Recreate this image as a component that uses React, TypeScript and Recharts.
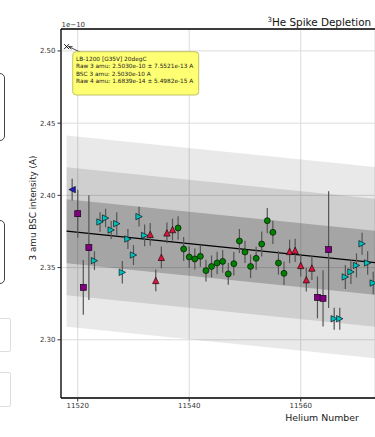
import React from 'react';
import {
  ComposedChart,
  Scatter,
  Area,
  Line,
  XAxis,
  YAxis,
  CartesianGrid,
  ErrorBar,
  ReferenceLine,
} from 'recharts';

// helium number -> 3 amu BSC intensity (x1e-10 A) and 1 sigma error
const cyanH = [11523, 11524, 11525, 11526, 11527, 11528, 11529, 11530, 11531, 11532, 11566, 11567, 11568, 11569, 11570, 11571, 11572, 11573];
const cyanV = [2.3548, 2.3816, 2.3843, 2.376, 2.3804, 2.3467, 2.3698, 2.3587, 2.3853, 2.3723, 2.3146, 2.3146, 2.3435, 2.347, 2.3515, 2.3665, 2.3532, 2.3393];
const cyanE = [0.0065, 0.0068, 0.0064, 0.0062, 0.008, 0.0078, 0.007, 0.0069, 0.0069, 0.0076, 0.0076, 0.0076, 0.0083, 0.0083, 0.0083, 0.0076, 0.0081, 0.0078];

const redH = [11533, 11534, 11535, 11536, 11537, 11558, 11559, 11560, 11561, 11562];
const redV = [2.373, 2.3411, 2.3571, 2.374, 2.3763, 2.3612, 2.3619, 2.3515, 2.3416, 2.3497];
const redE = [0.0079, 0.0075, 0.0075, 0.0072, 0.0076, 0.0081, 0.0081, 0.0076, 0.0081, 0.0083];

const greenH = [11538, 11539, 11540, 11541, 11542, 11543, 11544, 11545, 11546, 11547, 11548, 11549, 11550, 11551, 11552, 11553, 11554, 11555, 11556, 11557];
const greenV = [2.3774, 2.3629, 2.3573, 2.356, 2.3578, 2.3479, 2.3508, 2.3532, 2.3543, 2.3456, 2.3527, 2.3684, 2.3608, 2.3508, 2.3564, 2.3663, 2.3825, 2.3744, 2.3532, 2.346];
const greenE = [0.0081, 0.0083, 0.0075, 0.0073, 0.0073, 0.0076, 0.0076, 0.0078, 0.0078, 0.0075, 0.0081, 0.0083, 0.0077, 0.0081, 0.0081, 0.0087, 0.0087, 0.0081, 0.0081, 0.0081];

const purpleH = [11520, 11521, 11522, 11563, 11564, 11565];
const purpleV = [2.3873, 2.3363, 2.3638, 2.3294, 2.3287, 2.3624];
const purpleE = [0.0166, 0.019, 0.0362, 0.0145, 0.0195, 0.0404];

const blueH = [11519];
const blueV = [2.404];
const blueE = [0.0075];

const pickH = [11518];
const pickV = [2.503];

// trend line and 1/2/3 sigma bands, at both ends
const bandH = [11518, 11574];
const fitV = [2.3752, 2.3531];
const s1Lo = [2.353, 2.3309];
const s1Hi = [2.3974, 2.3753];
const s2Lo = [2.3309, 2.3088];
const s2Hi = [2.4195, 2.3974];
const s3Lo = [2.309, 2.2869];
const s3Hi = [2.4414, 2.4193];

const xTicks = [11520, 11540, 11560];
const yTicks = [2.3, 2.35, 2.4, 2.45, 2.5];

const pts = (h: number[], v: number[], e?: number[]) =>
  h.map((x, i) => ({ h: x, v: v[i], e: e ? e[i] : 0 }));

const bandData = bandH.map((h, i) => ({
  h,
  fit: fitV[i],
  s1: [s1Lo[i], s1Hi[i]],
  s2: [s2Lo[i], s2Hi[i]],
  s3: [s3Lo[i], s3Hi[i]],
}));

const edge = { stroke: '#000', strokeWidth: 0.6 };

const TriRight = ({ cx, cy }: any) => {
  const s = 3.2;
  return <polygon points={`${cx + s},${cy} ${cx - s},${cy - s} ${cx - s},${cy + s}`} fill='#00bfbf' {...edge} />;
};
const TriLeft = ({ cx, cy }: any) => {
  const s = 3.2;
  return <polygon points={`${cx - s},${cy} ${cx + s},${cy - s} ${cx + s},${cy + s}`} fill='#1c1cc8' {...edge} />;
};
const TriUp = ({ cx, cy }: any) => {
  const s = 3.2;
  return <polygon points={`${cx},${cy - s} ${cx - s},${cy + s} ${cx + s},${cy + s}`} fill='#dc143c' {...edge} />;
};
const Dot = ({ cx, cy }: any) => <circle cx={cx} cy={cy} r={3} fill='#008000' {...edge} />;
const Sq = ({ cx, cy }: any) => <rect x={cx - 3} y={cy - 3} width={6} height={6} fill='#800080' {...edge} />;
const Cross = ({ cx, cy }: any) => (
  <path d={`M${cx - 2.5},${cy - 2.5}L${cx + 2.5},${cy + 2.5}M${cx - 2.5},${cy + 2.5}L${cx + 2.5},${cy - 2.5}`} stroke='#000' strokeWidth={0.9} />
);

const errProps = { dataKey: 'e', direction: 'y' as const, width: 0, stroke: '#555', strokeWidth: 1.2 };
const tickStyle = { fontSize: 7, fill: '#333', fontFamily: 'DejaVu Sans' };

const App: React.FC = () => {
  return (
    <div style={{ position: 'absolute', left: 0, top: 0, width: 375, height: 437, overflow: 'hidden', background: '#fff', fontFamily: 'DejaVu Sans' }}>
      {/* bits of the side panel that are cut off */}
      <div style={{ position: 'absolute', left: -60, top: 73, width: 63, height: 66, border: '1px solid #444', borderRadius: 5 }} />
      <div style={{ position: 'absolute', left: -60, top: 220, width: 63, height: 62, border: '1px solid #444', borderRadius: 5 }} />
      <div style={{ position: 'absolute', left: -60, top: 318, width: 69, height: 32, border: '1px solid #ddd', borderRadius: 2 }} />
      <div style={{ position: 'absolute', left: -60, top: 372, width: 69, height: 33, border: '1px solid #ddd', borderRadius: 2 }} />

      <ComposedChart width={375} height={437} data={bandData} margin={{ top: 29, right: 0, bottom: 0, left: 0 }}>
        <CartesianGrid stroke='#dcdcdc' />
        <XAxis
          dataKey='h'
          type='number'
          domain={[11517, 11573.32]}
          allowDataOverflow
          ticks={xTicks}
          height={39}
          tickSize={3.5}
          tickMargin={2}
          tick={tickStyle}
          tickLine={{ stroke: '#333' }}
          axisLine={{ stroke: '#000', strokeWidth: 1.3 }}
        />
        <YAxis
          type='number'
          domain={[2.2597, 2.5152]}
          allowDataOverflow
          ticks={yTicks}
          width={61}
          tickSize={3.5}
          tickMargin={2}
          tick={tickStyle}
          tickFormatter={(v: number) => v.toFixed(2)}
          tickLine={{ stroke: '#333' }}
          axisLine={{ stroke: '#000', strokeWidth: 1.3 }}
        />
        <ReferenceLine y={2.5152} stroke='#000' strokeWidth={1.3} />
        <Area dataKey='s3' type='linear' stroke='none' fill='#000' fillOpacity={0.088} dot={false} activeDot={false} isAnimationActive={false} />
        <Area dataKey='s2' type='linear' stroke='none' fill='#000' fillOpacity={0.11} dot={false} activeDot={false} isAnimationActive={false} />
        <Area dataKey='s1' type='linear' stroke='none' fill='#000' fillOpacity={0.2} dot={false} activeDot={false} isAnimationActive={false} />
        <Line dataKey='fit' type='linear' stroke='#000' strokeWidth={1.2} dot={false} activeDot={false} isAnimationActive={false} />
        <Scatter data={pts(purpleH, purpleV, purpleE)} dataKey='v' shape={Sq} isAnimationActive={false}>
          <ErrorBar {...errProps} />
        </Scatter>
        <Scatter data={pts(cyanH, cyanV, cyanE)} dataKey='v' shape={TriRight} isAnimationActive={false}>
          <ErrorBar {...errProps} />
        </Scatter>
        <Scatter data={pts(redH, redV, redE)} dataKey='v' shape={TriUp} isAnimationActive={false}>
          <ErrorBar {...errProps} />
        </Scatter>
        <Scatter data={pts(greenH, greenV, greenE)} dataKey='v' shape={Dot} isAnimationActive={false}>
          <ErrorBar {...errProps} />
        </Scatter>
        <Scatter data={pts(blueH, blueV, blueE)} dataKey='v' shape={TriLeft} isAnimationActive={false}>
          <ErrorBar {...errProps} />
        </Scatter>
        <Scatter data={pts(pickH, pickV)} dataKey='v' shape={Cross} isAnimationActive={false} />
      </ComposedChart>

      <svg width={375} height={437} style={{ position: 'absolute', left: 0, top: 0, pointerEvents: 'none' }}>
        <text x={267.5} y={25.5} fontSize={10.4} fill='#111'>
          <tspan fontSize={7} dy={-4}>3</tspan>
          <tspan dy={4}>He Spike Depletion</tspan>
        </text>
        <text x={61.5} y={27} fontSize={7} fill='#333'>1e−10</text>
        <text transform='translate(36,208) rotate(-90)' textAnchor='middle' fontSize={8.8} fill='#222'>
          3 amu BSC intensity (A)
        </text>
        <text x={322} y={421} textAnchor='middle' fontSize={9.4} fill='#222'>Helium Number</text>

        <line x1={81} y1={52.5} x2={68.5} y2={46.5} stroke='#222' strokeWidth={0.8} />
        <path d='M68.5,46.5 L72.6,46.6 M68.5,46.5 L71.4,49.3' stroke='#222' strokeWidth={0.8} fill='none' />
        <rect x={72.7} y={51.7} width={126} height={43.3} rx={3.5} fill='#ffff73' stroke='#b3b34d' strokeWidth={0.8} />
        <g fontSize={5.8} fill='#222'>
          <text x={76} y={61}>LB-1200 [G35V] 20degC</text>
          <text x={76} y={68.3}>Raw 3 amu: 2.5030e-10 ± 7.5521e-13 A</text>
          <text x={76} y={75.7}>BSC 3 amu: 2.5030e-10 A</text>
          <text x={76} y={83}>Raw 4 amu: 1.6839e-14 ± 5.4982e-15 A</text>
        </g>
      </svg>
    </div>
  );
};

export default App;
